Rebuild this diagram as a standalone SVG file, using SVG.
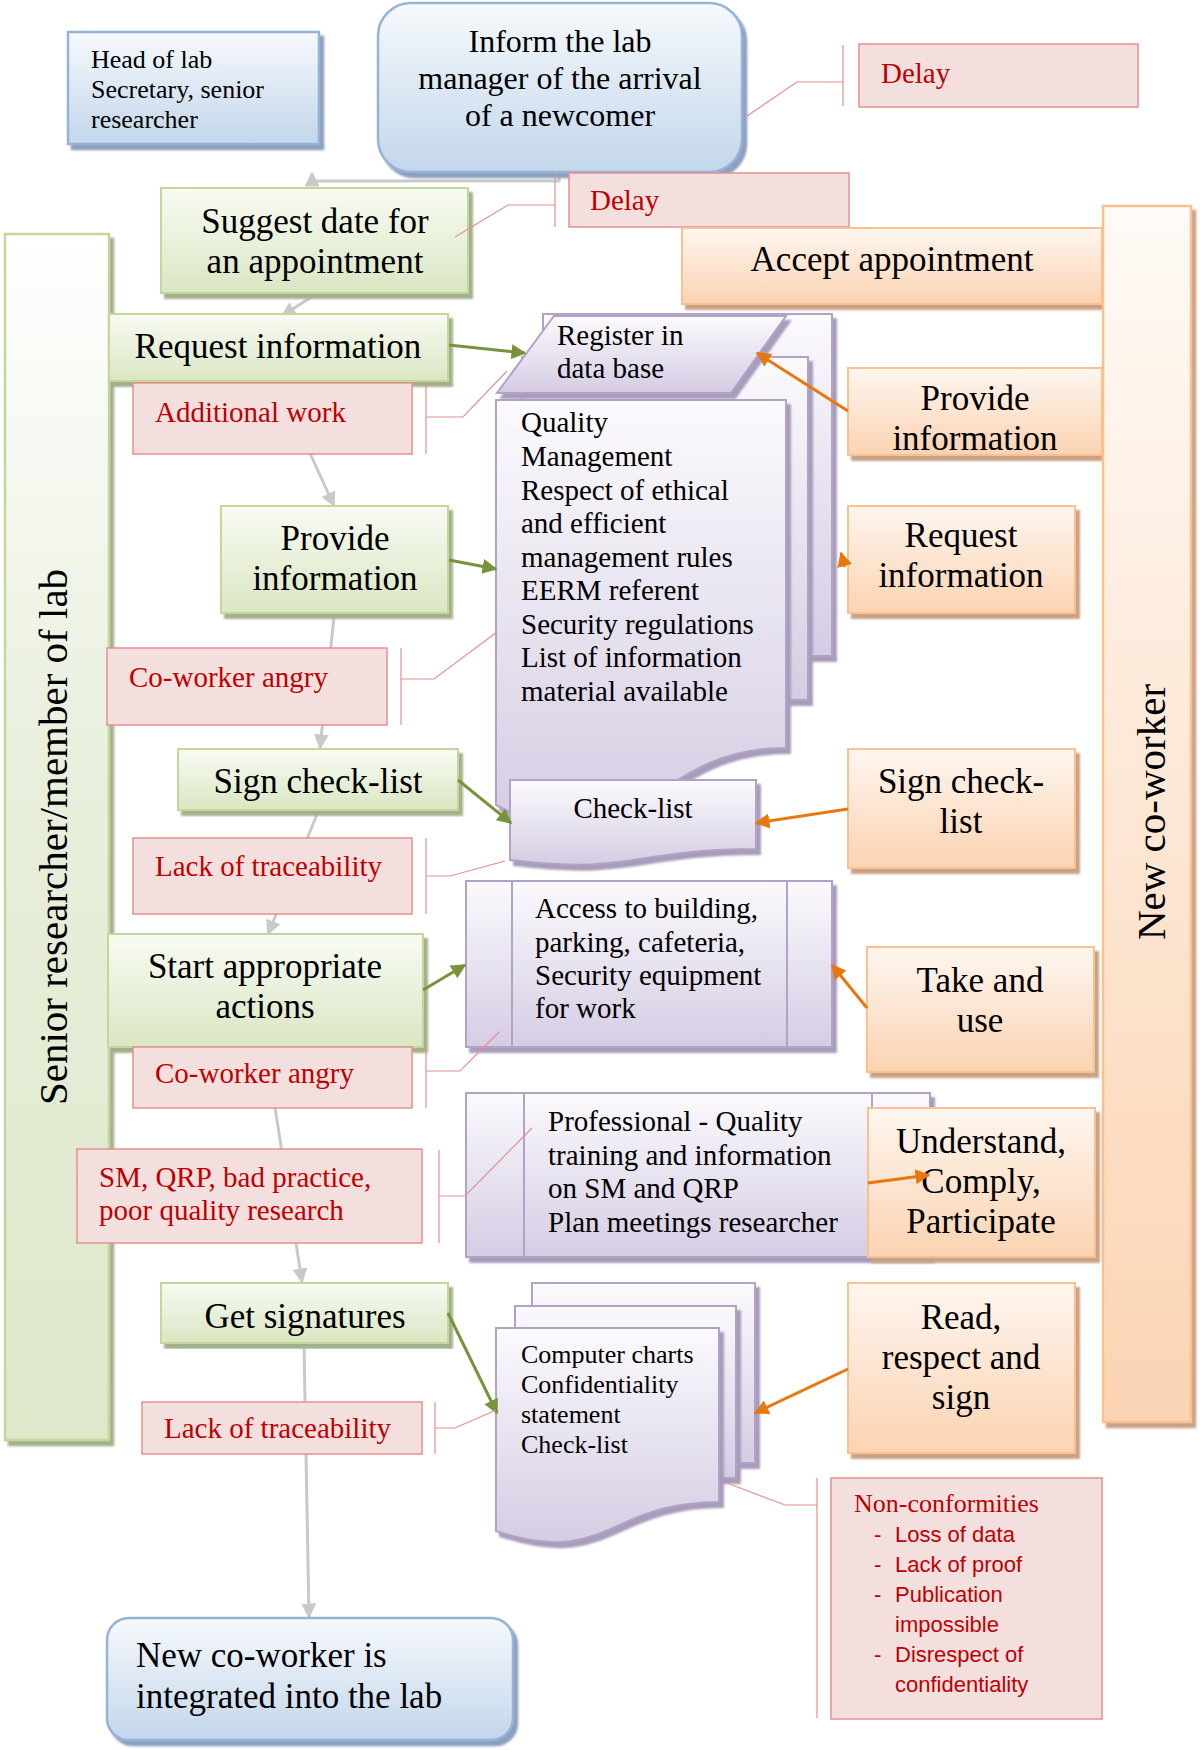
<svg xmlns="http://www.w3.org/2000/svg" width="1200" height="1750" viewBox="0 0 1200 1750">
<defs>
<linearGradient id="gG" x1="0" y1="0" x2="0" y2="1"><stop offset="0" stop-color="#f8fbf3"/><stop offset="1" stop-color="#dae6c3"/></linearGradient>
<linearGradient id="gO" x1="0" y1="0" x2="0" y2="1"><stop offset="0" stop-color="#fef6ef"/><stop offset="1" stop-color="#fbd3b2"/></linearGradient>
<linearGradient id="gB" x1="0" y1="0" x2="0" y2="1"><stop offset="0" stop-color="#f6f9fc"/><stop offset="1" stop-color="#c3d6eb"/></linearGradient>
<linearGradient id="gP" x1="0" y1="0" x2="0" y2="1"><stop offset="0" stop-color="#fbfafd"/><stop offset="1" stop-color="#d5cce3"/></linearGradient>
<linearGradient id="gLG" x1="0" y1="0" x2="0" y2="1"><stop offset="0" stop-color="#ffffff"/><stop offset="0.45" stop-color="#e8efdc"/><stop offset="1" stop-color="#dde8ca"/></linearGradient>
<linearGradient id="gLO" x1="0" y1="0" x2="0" y2="1"><stop offset="0" stop-color="#fffaf6"/><stop offset="1" stop-color="#fbd4b3"/></linearGradient>
<filter id="sG"><feDropShadow dx="4" dy="5" stdDeviation="0.8" flood-color="#a3b08c" flood-opacity="1"/></filter>
<filter id="sO"><feDropShadow dx="4" dy="5" stdDeviation="0.8" flood-color="#c9a285" flood-opacity="1"/></filter>
<filter id="sB"><feDropShadow dx="4" dy="5" stdDeviation="0.8" flood-color="#8c9fbf" flood-opacity="1"/></filter>
<filter id="sP"><feDropShadow dx="4" dy="5" stdDeviation="0.8" flood-color="#a79cba" flood-opacity="1"/></filter>
<marker id="aG" viewBox="0 0 10 10" refX="9" refY="5" markerWidth="15" markerHeight="15" markerUnits="userSpaceOnUse" orient="auto"><path d="M0,0 L10,5 L0,10 z" fill="#77933c"/></marker>
<marker id="aO" viewBox="0 0 10 10" refX="9" refY="5" markerWidth="15" markerHeight="15" markerUnits="userSpaceOnUse" orient="auto"><path d="M0,0 L10,5 L0,10 z" fill="#e8770e"/></marker>
<marker id="aGr" viewBox="0 0 10 10" refX="9" refY="5" markerWidth="15" markerHeight="15" markerUnits="userSpaceOnUse" orient="auto"><path d="M0,0 L10,5 L0,10 z" fill="#c9c9c9"/></marker>
<style>
.g{fill:url(#gG);stroke:#c3d69b;stroke-width:2}
.o{fill:url(#gO);stroke:#fac090;stroke-width:2}
.b{fill:url(#gB);stroke:#95b3d7;stroke-width:2.5}
.pu{fill:url(#gP);stroke:#b3a2c7;stroke-width:2}
.pk{fill:#f4dfdf;stroke:#e6908f;stroke-width:1.5}
.lg{fill:url(#gLG);stroke:#c3d69b;stroke-width:2.5}
.lo{fill:url(#gLO);stroke:#fac090;stroke-width:2.5}
.tx{font-family:"Liberation Serif","Times New Roman",serif;fill:#000}
.f41{font-size:41px}.f35{font-size:35px}.f32{font-size:32px}.f29{font-size:29px}.f26{font-size:26px}
.red{fill:#c00000}
.sans{font-family:"Liberation Sans",Arial,sans-serif;font-size:22px;fill:#c00000}
.c{text-anchor:middle}
.pl{stroke:#b3a2c7;stroke-width:2}
.flow{fill:none;stroke:#c9c9c9;stroke-width:3;marker-end:url(#aGr)}
.ga{fill:none;stroke:#77933c;stroke-width:3;marker-end:url(#aG)}
.oa{fill:none;stroke:#e8770e;stroke-width:3;marker-end:url(#aO)}
.co{fill:none;stroke:#e6908f;stroke-width:1.2}
</style>
</defs>
<rect width="1200" height="1750" fill="#ffffff"/>

<g id="lane-senior">
<rect x="5" y="234" width="104" height="1206" class="lg" filter="url(#sG)"/>
<text class="tx f41 c" transform="translate(67,837) rotate(-90)">Senior researcher/member of lab</text>
</g>

<g id="flow-connectors">
<path class="flow" d="M559,173 V181 H312 V173"/>
<path class="flow" d="M316,294 L282,316"/>
<path class="flow" d="M278,383 L334,506"/>
<path class="flow" d="M334,617 L320,748"/>
<path class="flow" d="M318,812 L268,934"/>
<path class="flow" d="M266,1049 L302,1282"/>
<path class="flow" d="M304,1345 L309,1617"/>
</g>

<g id="head-of-lab">
<rect x="68" y="32" width="251" height="112" class="b" filter="url(#sB)"/>
<text class="tx f26"><tspan x="91" y="68">Head of lab</tspan><tspan x="91" y="98">Secretary, senior</tspan><tspan x="91" y="128">researcher</tspan></text>
</g>

<g id="inform">
<rect x="378" y="3" width="364" height="169" rx="33" class="b" filter="url(#sB)"/>
<text class="tx f32 c"><tspan x="560" y="52">Inform the lab</tspan><tspan x="560" y="89">manager of the arrival</tspan><tspan x="560" y="126">of a newcomer</tspan></text>
</g>

<g id="delay-1">
<rect x="859" y="44" width="279" height="63" class="pk"/>
<text class="tx f29 red" x="881" y="83">Delay</text>
</g>

<g id="delay-2">
<rect x="569" y="173" width="280" height="54" class="pk"/>
<text class="tx f29 red" x="590" y="210">Delay</text>
</g>

<g id="suggest">
<rect x="161" y="188" width="307" height="105" class="g" filter="url(#sG)"/>
<text class="tx f35 c"><tspan x="315" y="233">Suggest date for</tspan><tspan x="315" y="273">an appointment</tspan></text>
</g>

<g id="accept">
<rect x="682" y="228" width="420" height="76" class="o" filter="url(#sO)"/>
<text class="tx f35 c" x="892" y="271">Accept appointment</text>
</g>

<g id="request-lab">
<rect x="109" y="314" width="339" height="67" class="g" filter="url(#sG)"/>
<text class="tx f35 c" x="278" y="358">Request information</text>
</g>

<g id="additional-work">
<rect x="133" y="383" width="279" height="71" class="pk"/>
<text class="tx f29 red" x="155" y="422">Additional work</text>
</g>

<g id="register-docs">
<rect x="543" y="314" width="289" height="342" class="pu" filter="url(#sP)"/>
<rect x="522" y="357" width="286" height="343" class="pu" filter="url(#sP)"/>
<path d="M496,400 H786 V748 C641,748 641,880 496,805 Z" class="pu" filter="url(#sP)"/>
<path d="M554,316 H786 L731,393 H497 Z" class="pu" filter="url(#sP)"/>
<text class="tx f29"><tspan x="557" y="345">Register in</tspan><tspan x="557" y="378">data base</tspan></text>
<text class="tx f29"><tspan x="521" y="432">Quality</tspan><tspan x="521" y="466">Management</tspan><tspan x="521" y="500">Respect of ethical</tspan><tspan x="521" y="533">and efficient</tspan><tspan x="521" y="567">management rules</tspan><tspan x="521" y="600">EERM referent</tspan><tspan x="521" y="634">Security regulations</tspan><tspan x="521" y="667">List of information</tspan><tspan x="521" y="701">material available</tspan></text>
</g>

<g id="provide-lab">
<rect x="221" y="506" width="227" height="107" class="g" filter="url(#sG)"/>
<text class="tx f35 c"><tspan x="335" y="550">Provide</tspan><tspan x="335" y="590">information</tspan></text>
</g>

<g id="angry-1">
<rect x="107" y="648" width="280" height="77" class="pk"/>
<text class="tx f29 red" x="129" y="687">Co-worker angry</text>
</g>

<g id="sign-lab">
<rect x="178" y="749" width="280" height="61" class="g" filter="url(#sG)"/>
<text class="tx f35 c" x="318" y="793">Sign check-list</text>
</g>

<g id="checklist">
<path d="M510,780 H756 V849 C633,849 633,875 510,860 Z" class="pu" filter="url(#sP)"/>
<text class="tx f29 c" x="633" y="818">Check-list</text>
</g>

<g id="lack-1">
<rect x="133" y="838" width="279" height="76" class="pk"/>
<text class="tx f29 red" x="155" y="876">Lack of traceability</text>
</g>

<g id="start">
<rect x="108" y="934" width="315" height="113" class="g" filter="url(#sG)"/>
<text class="tx f35 c"><tspan x="265" y="978">Start appropriate</tspan><tspan x="265" y="1018">actions</tspan></text>
</g>

<g id="access">
<rect x="466" y="881" width="366" height="166" class="pu" filter="url(#sP)"/>
<line x1="512" y1="881" x2="512" y2="1047" class="pl"/>
<line x1="787" y1="881" x2="787" y2="1047" class="pl"/>
<text class="tx f29"><tspan x="535" y="918">Access to building,</tspan><tspan x="535" y="952">parking, cafeteria,</tspan><tspan x="535" y="985">Security equipment</tspan><tspan x="535" y="1018">for work</tspan></text>
</g>

<g id="angry-2">
<rect x="133" y="1047" width="279" height="61" class="pk"/>
<text class="tx f29 red" x="155" y="1083">Co-worker angry</text>
</g>

<g id="sm-qrp">
<rect x="77" y="1149" width="345" height="94" class="pk"/>
<text class="tx f29 red"><tspan x="99" y="1187">SM, QRP, bad practice,</tspan><tspan x="99" y="1220">poor quality research</tspan></text>
</g>

<g id="professional">
<rect x="466" y="1093" width="464" height="164" class="pu" filter="url(#sP)"/>
<line x1="524" y1="1093" x2="524" y2="1257" class="pl"/>
<line x1="872" y1="1093" x2="872" y2="1257" class="pl"/>
<text class="tx f29"><tspan x="548" y="1131">Professional - Quality</tspan><tspan x="548" y="1165">training and information</tspan><tspan x="548" y="1198">on SM and QRP</tspan><tspan x="548" y="1232">Plan meetings researcher</tspan></text>
</g>

<g id="get-signatures">
<rect x="161" y="1283" width="287" height="60" class="g" filter="url(#sG)"/>
<text class="tx f35 c" x="305" y="1328">Get signatures</text>
</g>

<g id="lack-2">
<rect x="142" y="1402" width="280" height="52" class="pk"/>
<text class="tx f29 red" x="164" y="1438">Lack of traceability</text>
</g>

<g id="computer-docs">
<rect x="532" y="1283" width="223" height="180" class="pu" filter="url(#sP)"/>
<rect x="515" y="1306" width="221" height="172" class="pu" filter="url(#sP)"/>
<path d="M496,1328 H719 V1502 C607,1502 607,1568 496,1531 Z" class="pu" filter="url(#sP)"/>
<text class="tx f26"><tspan x="521" y="1363">Computer charts</tspan><tspan x="521" y="1393">Confidentiality</tspan><tspan x="521" y="1423">statement</tspan><tspan x="521" y="1453">Check-list</tspan></text>
</g>

<g id="integrated">
<rect x="107" y="1618" width="406" height="122" rx="22" class="b" filter="url(#sB)"/>
<text class="tx f35"><tspan x="136" y="1667">New co-worker is</tspan><tspan x="136" y="1708">integrated into the lab</tspan></text>
</g>

<g id="provide-new">
<rect x="848" y="368" width="254" height="87" class="o" filter="url(#sO)"/>
<text class="tx f35 c"><tspan x="975" y="410">Provide</tspan><tspan x="975" y="450">information</tspan></text>
</g>

<g id="request-new">
<rect x="848" y="506" width="227" height="107" class="o" filter="url(#sO)"/>
<text class="tx f35 c"><tspan x="961" y="547">Request</tspan><tspan x="961" y="587">information</tspan></text>
</g>

<g id="sign-new">
<rect x="848" y="749" width="227" height="119" class="o" filter="url(#sO)"/>
<text class="tx f35 c"><tspan x="961" y="793">Sign check-</tspan><tspan x="961" y="833">list</tspan></text>
</g>

<g id="take-use">
<rect x="867" y="947" width="227" height="125" class="o" filter="url(#sO)"/>
<text class="tx f35 c"><tspan x="980" y="992">Take and</tspan><tspan x="980" y="1032">use</tspan></text>
</g>

<g id="understand">
<rect x="868" y="1108" width="227" height="149" class="o" filter="url(#sO)"/>
<text class="tx f35 c"><tspan x="981" y="1153">Understand,</tspan><tspan x="981" y="1193">Comply,</tspan><tspan x="981" y="1233">Participate</tspan></text>
</g>

<g id="read-sign">
<rect x="848" y="1283" width="227" height="170" class="o" filter="url(#sO)"/>
<text class="tx f35 c"><tspan x="961" y="1329">Read,</tspan><tspan x="961" y="1369">respect and</tspan><tspan x="961" y="1409">sign</tspan></text>
</g>

<g id="non-conformities">
<rect x="831" y="1478" width="271" height="241" class="pk"/>
<text class="tx f26 red" x="854" y="1512">Non-conformities</text>
<text class="sans"><tspan x="874" y="1542">-</tspan><tspan x="895" y="1542">Loss of data</tspan><tspan x="874" y="1572">-</tspan><tspan x="895" y="1572">Lack of proof</tspan><tspan x="874" y="1602">-</tspan><tspan x="895" y="1602">Publication</tspan><tspan x="895" y="1632">impossible</tspan><tspan x="874" y="1662">-</tspan><tspan x="895" y="1662">Disrespect of</tspan><tspan x="895" y="1692">confidentiality</tspan></text>
</g>

<g id="lane-new">
<rect x="1103" y="206" width="88" height="1216" class="lo" filter="url(#sO)"/>
<text class="tx f41 c" transform="translate(1165,812) rotate(-90)">New co-worker</text>
</g>

<g id="connectors">
<path class="ga" d="M449,345 L525,353"/>
<path class="ga" d="M449,560 L496,569"/>
<path class="ga" d="M458,780 L511,823"/>
<path class="ga" d="M423,990 L465,965"/>
<path class="ga" d="M448,1313 L497,1413"/>
<path class="oa" d="M848,411 L757,353"/>
<path class="oa" d="M845,567 L841,553"/>
<path class="oa" d="M848,809 L756,823"/>
<path class="oa" d="M867,1008 L832,965"/>
<path class="oa" d="M868,1183 L929,1175"/>
<path class="oa" d="M848,1369 L755,1413"/>
<path class="co" d="M843,45 V106 M843,82 H797 L744,118"/>
<path class="co" d="M555,173 V227 M555,205 H508 L455,237"/>
<path class="co" d="M426,383 V454 M426,417 H463 L507,371"/>
<path class="co" d="M401,648 V725 M401,679 H434 L497,632"/>
<path class="co" d="M426,838 V914 M426,876 H450 L505,861"/>
<path class="co" d="M426,1048 V1108 M426,1071 H460 L499,1032"/>
<path class="co" d="M439,1150 V1243 M439,1196 H465 L532,1128"/>
<path class="co" d="M435,1402 V1454 M435,1428 H455 L496,1410"/>
<path class="co" d="M817,1478 V1718 M817,1505 H785 L727,1483"/>
</g>
</svg>
